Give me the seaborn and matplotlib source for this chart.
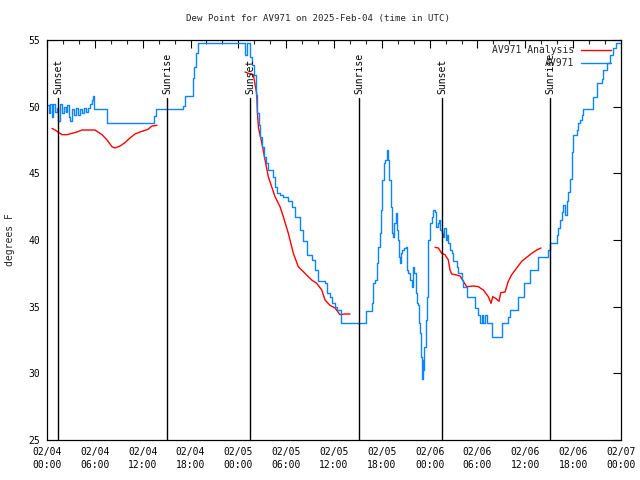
import matplotlib
matplotlib.use("Agg")
import matplotlib.pyplot as plt
import matplotlib.transforms as mtransforms
from matplotlib.lines import Line2D
from matplotlib.ticker import MultipleLocator
import seaborn as sns
import pandas as pd
import numpy as np
from datetime import datetime, timedelta

# ---------------- data (hours since 2025-02-04 00:00 UTC) ----------------
obs_hours = [0.00, 0.25, 0.38, 0.63, 0.75, 1.00, 1.25, 1.38, 1.63, 1.88, 2.13, 2.38, 2.51,
             2.76, 2.89, 3.14, 3.39, 3.64, 3.89, 4.14, 4.39, 4.64, 4.89, 5.14, 5.39, 5.64,
             5.77, 5.90, 7.53, 13.42, 13.67, 17.06, 17.31, 18.31, 18.44, 18.69, 18.94,
             24.71, 24.84, 25.09, 25.46, 25.71, 25.97, 26.22, 26.40, 26.53, 26.71, 27.00,
             27.22, 27.43, 27.76, 28.39, 28.60, 28.81, 29.23, 29.64, 30.27, 30.70, 31.11,
             31.74, 32.15, 32.58, 33.20, 33.62, 34.03, 34.87, 35.09, 35.50, 35.71, 36.13,
             36.34, 36.84, 39.98, 40.80, 40.93, 41.14, 41.36, 41.56, 41.77, 41.90, 42.06,
             42.24, 42.40, 42.61, 42.69, 42.81, 42.94, 43.15, 43.31, 43.44, 43.57, 43.74,
             43.87, 44.00, 44.15, 44.28, 44.41, 44.57, 44.82, 45.00, 45.12, 45.32, 45.53,
             45.75, 45.95, 46.07, 46.25, 46.38, 46.58, 46.70, 46.83, 46.91, 47.00, 47.13,
             47.20, 47.33, 47.50, 47.67, 47.83, 48.04, 48.26, 48.46, 48.67, 48.80, 49.01,
             49.17, 49.30, 49.51, 49.71, 49.84, 50.01, 50.18, 50.34, 50.55, 50.76, 50.96,
             51.39, 51.59, 52.02, 52.22, 52.65, 53.69, 54.10, 54.31, 54.52, 54.73, 54.94,
             55.16, 55.78, 57.04, 57.86, 58.08, 59.12, 59.83, 60.59, 61.63, 62.88, 63.10,
             63.94, 64.14, 64.35, 64.56, 64.76, 64.97, 65.18, 65.38, 65.60, 65.81, 65.89,
             66.02, 66.44, 66.65, 66.86, 67.07, 67.27, 68.53, 68.95, 69.58, 69.79, 70.21,
             70.62, 71.04, 71.37, 71.88]
obs_dewpt = [50.1, 49.5, 50.2, 49.2, 50.2, 49.6, 49.9, 48.9, 50.2, 49.5, 50.0, 49.6, 50.1,
             49.2, 48.9, 49.8, 49.4, 49.9, 49.4, 49.8, 49.5, 49.9, 49.6, 49.9, 50.2, 50.5,
             50.8, 49.8, 48.75, 49.3, 49.8, 50.05, 50.8, 52.15, 53.0, 54.0, 54.8,
             54.8, 53.9, 54.8, 53.7, 53.1, 52.4, 50.9, 49.5, 48.6, 47.75, 47.0,
             46.25, 45.75, 45.25, 44.75, 44.0, 43.5, 43.4, 43.25, 42.9, 42.5, 41.75,
             40.75, 39.9, 38.9, 38.5, 37.75, 36.9, 36.75, 36.0, 35.75, 35.25, 35.0,
             34.75, 33.75, 34.7, 35.25, 36.75, 37.0, 38.25, 39.5, 40.5, 42.25, 44.5,
             45.75, 46.0, 46.5, 46.75, 46.0, 44.5, 42.5, 40.5, 40.25, 41.25, 42.0,
             40.75, 40.0, 38.75, 38.25, 39.0, 39.25, 39.4, 39.5, 37.75, 37.5, 37.0,
             36.5, 38.0, 37.5, 36.0, 35.25, 35.1, 33.75, 33.0, 31.25, 29.6, 31.0,
             30.25, 32.0, 34.0, 35.75, 40.0, 41.25, 41.75, 42.25, 42.1, 41.0, 41.25,
             41.5, 40.75, 40.5, 40.25, 40.9, 40.0, 40.4, 39.75, 39.25, 39.0, 38.4,
             38.0, 37.5, 37.0, 36.5, 35.75, 34.9, 34.4, 33.75, 34.4, 33.75, 34.4,
             33.75, 32.75, 33.75, 34.25, 34.75, 35.75, 36.75, 37.75, 38.75, 39.25, 39.75,
             40.4, 40.9, 41.5, 42.1, 42.6, 41.9, 42.9, 43.6, 44.6, 45.4, 46.6,
             47.9, 48.25, 48.75, 49.0, 49.4, 49.8, 50.75, 51.75, 52.1, 52.75, 53.25,
             53.9, 54.4, 54.75, 54.75]

ana_hours_1 = [0.63, 1.00, 1.38, 1.88, 2.51, 3.14, 3.76, 4.39, 6.02, 6.90, 7.53, 8.15,
               8.53, 9.16, 9.78, 10.41, 11.04, 11.67, 12.67, 13.17, 13.80]
ana_dewpt_1 = [48.37, 48.25, 48.1, 47.9, 47.9, 48.0, 48.1, 48.25, 48.25, 47.9, 47.5, 47.0,
               46.9, 47.05, 47.3, 47.65, 47.95, 48.1, 48.3, 48.55, 48.6]
ana_hours_2 = [24.84, 25.46, 25.88, 26.30, 26.40, 26.53, 26.94, 27.35, 27.76, 28.60, 29.23,
               29.64, 30.27, 30.90, 31.52, 32.36, 33.20, 33.83, 34.46, 34.87, 35.50,
               36.13, 36.75, 37.38, 38.01]
ana_dewpt_2 = [52.6, 52.45, 52.4, 51.0, 49.5, 48.4, 47.3, 46.0, 44.75, 43.25, 42.5,
               41.75, 40.5, 39.0, 38.0, 37.5, 37.0, 36.75, 36.25, 35.5, 35.1,
               34.9, 34.4, 34.45, 34.45]
ana_hours_3 = [48.67, 49.09, 49.51, 49.92, 50.34, 50.55, 50.76, 51.18, 51.81, 52.22, 52.65,
               53.48, 54.10, 54.73, 55.36, 55.70, 55.91, 56.32, 56.70, 56.91, 57.45,
               57.86, 58.29, 58.92, 59.54, 60.17, 60.80, 61.43, 61.97]
ana_dewpt_3 = [39.45, 39.4, 39.0, 38.9, 38.5, 37.75, 37.45, 37.4, 37.3, 36.9, 36.5,
               36.55, 36.5, 36.25, 35.75, 35.25, 35.75, 35.6, 35.4, 36.05, 36.1,
               36.9, 37.4, 37.9, 38.4, 38.7, 39.0, 39.25, 39.4]

sun_hours = [1.38, 15.05, 25.46, 39.14, 49.55, 63.10]
sun_labels = ["Sunset", "Sunrise", "Sunset", "Sunrise", "Sunset", "Sunrise"]

start_time = datetime(2025, 2, 4, 0, 0)
x_tick_hours = list(range(0, 73, 6))
y_ticks = [25, 30, 35, 40, 45, 50, 55]
title = "Dew Point for AV971 on 2025-Feb-04 (time in UTC)"
ylabel = "degrees F"
series_names = ["AV971 Analysis", "AV971"]

# ---------------- tables ----------------
obs_df = pd.DataFrame({"hours": obs_hours, "dewpt": obs_dewpt})
ana_df = pd.concat([
    pd.DataFrame({"hours": ana_hours_1, "dewpt": ana_dewpt_1, "seg": 1}),
    pd.DataFrame({"hours": ana_hours_2, "dewpt": ana_dewpt_2, "seg": 2}),
    pd.DataFrame({"hours": ana_hours_3, "dewpt": ana_dewpt_3, "seg": 3}),
], ignore_index=True)

# ---------------- style ----------------
sns.set_style("white")
FONT = "DejaVu Sans Mono"
plt.rcParams["font.family"] = [FONT]
FS = 7
RED = "#ff0000"
BLUE = "#0a84ff"

fig = plt.figure(figsize=(6.4, 4.8), dpi=100)
ax = fig.add_axes([47 / 640, 1 - 440 / 480, (621 - 47) / 640, 400 / 480])

sns.lineplot(data=ana_df, x="hours", y="dewpt", units="seg", estimator=None,
             color=RED, lw=1.0, ax=ax, legend=False)
sns.lineplot(data=obs_df, x="hours", y="dewpt", estimator=None,
             color=BLUE, lw=1.0, ax=ax, legend=False, drawstyle="steps-post")

ax.set_xlim(0, 72)
ax.set_ylim(25, 55)
ax.set_xlabel("")
ax.set_ylabel("")

ax.set_xticks(x_tick_hours)
ax.set_xticklabels([(start_time + timedelta(hours=h)).strftime("%m/%d\n%H:%M")
                    for h in x_tick_hours], fontsize=FS, linespacing=1.35)
ax.xaxis.set_minor_locator(MultipleLocator(2))
ax.set_yticks(y_ticks)
ax.set_yticklabels([str(v) for v in y_ticks], fontsize=FS)
ax.tick_params(which="major", direction="in", length=6, width=0.8,
               top=True, right=True, pad=5, color="black", labelcolor="black")
ax.tick_params(which="minor", direction="in", length=3, width=0.8,
               top=True, right=False, left=False)
for s in ax.spines.values():
    s.set_color("black")
    s.set_linewidth(0.9)

# sunrise / sunset markers
trans = mtransforms.blended_transform_factory(ax.transData, ax.transAxes)
for h, lab in zip(sun_hours, sun_labels):
    ax.axvline(h, ymin=0, ymax=0.855, color="black", lw=1.0)
    ax.text(h, 0.866, lab, rotation=90, ha="center", va="bottom",
            transform=trans, fontsize=FS, color="black")

# legend
handles = [Line2D([], [], color=RED, lw=1.0), Line2D([], [], color=BLUE, lw=1.0)]
ax.legend(handles, series_names, loc="upper right", frameon=False, fontsize=FS,
          markerfirst=False, handlelength=3.1, handletextpad=0.7,
          labelspacing=0.35, borderaxespad=0.0, borderpad=0.2,
          bbox_to_anchor=((613 - 47) / 574, 1 - 3 / 400))

fig.text(318 / 640, 1 - 19 / 480, title, ha="center", va="center", fontsize=6.6)
fig.text(10 / 640, 0.5, ylabel, rotation=90, ha="center", va="center", fontsize=FS)

fig.savefig("out.png", dpi=100)
